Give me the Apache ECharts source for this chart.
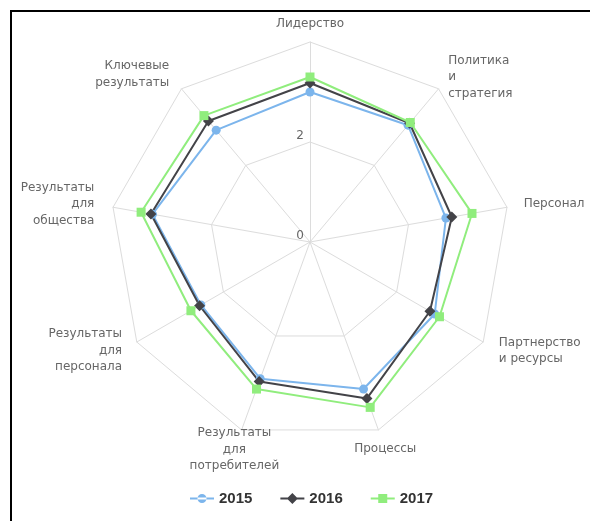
<!DOCTYPE html>
<html>
<head>
<meta charset="utf-8">
<script src="https://cdn.jsdelivr.net/npm/echarts@6/dist/echarts.min.js"></script>
<style>
html,body{margin:0;padding:0;background:#fff;}
#chart{position:absolute;left:0;top:0;width:590px;height:521px;}
#frame{position:absolute;left:10px;top:10px;width:580px;height:511px;border-left:2px solid #000;border-top:2px solid #000;box-sizing:border-box;pointer-events:none;}
</style>
</head>
<body>
<div id="chart"></div>
<div id="frame"></div>
<script>
// Indicators in clockwise order starting from the top
const categories = [
  'Лидерство',
  'Политика\nи\nстратегия',
  'Персонал',
  'Партнерство\nи ресурсы',
  'Процессы',
  'Результаты\nдля\nпотребителей',
  'Результаты\nдля\nперсонала',
  'Результаты\nдля\nобщества',
  'Ключевые\nрезультаты'
];
const seriesNames = ['2015', '2016', '2017'];
const values2015 = [3.0, 3.05, 2.76, 2.88, 3.13, 2.91, 2.52, 3.2, 2.92];
const values2016 = [3.18, 3.1, 2.88, 2.77, 3.33, 2.97, 2.55, 3.23, 3.16];
const values2017 = [3.3, 3.12, 3.29, 2.99, 3.52, 3.13, 2.75, 3.43, 3.3];
const axisMax = 4;
const axisSplits = 2;

const colors = ['#7cb5ec', '#434348', '#90ed7d'];
const symbols = ['circle', 'diamond', 'rect'];
const symbolSizes = [9, 11, 9];
const legendIcons = [
  'path://M0,8h24v2h-24z M12,4.5a4.5,4.5 0 1,0 0.001,0z',
  'path://M0,8h24v2h-24z M12,3.5l5.5,5.5l-5.5,5.5l-5.5,-5.5z',
  'path://M0,8h24v2h-24z M7.5,4.5h9v9h-9z'
];
// distance of each indicator name from the outer ring (same order as categories)
const nameGaps = [10, 15, 17, 18, 20, 21, 17, 19, 19];

// ECharts places radar indicators counter-clockwise; reorder so display is clockwise
const order = [0].concat(categories.map((_, i) => i).slice(1).reverse());
const bottomIdx = [4, 5];
const indicator = order.map(i => {
  const ind = { name: categories[i], max: axisMax, min: 0, nameGap: nameGaps[i] };
  if (i === 0) ind.axisLabel = { show: true };
  if (bottomIdx.indexOf(i) >= 0) ind.nameTextStyle = { align: 'center' };
  return ind;
});
const reorder = arr => order.map(i => arr[i]);
const allValues = [values2015, values2016, values2017];

const chart = echarts.init(document.getElementById('chart'));
chart.setOption({
  backgroundColor: '#fff',
  animation: false,
  color: colors,
  legend: {
    top: 486,
    left: 185,
    itemGap: 28,
    itemWidth: 24,
    itemHeight: 18,
    textStyle: { fontFamily: 'Liberation Sans', fontWeight: 'bold', fontSize: 15, color: '#333' },
    data: seriesNames.map((n, k) => ({ name: n, icon: legendIcons[k] }))
  },
  radar: {
    center: [310, 242],
    radius: 200,
    shape: 'polygon',
    startAngle: 90,
    splitNumber: axisSplits,
    nameGap: 14,
    axisName: { color: '#666', fontFamily: 'DejaVu Sans', fontSize: 12, lineHeight: 16.5 },
    axisLine: { lineStyle: { color: '#dcdcdc', width: 1 } },
    splitLine: { lineStyle: { color: '#dcdcdc', width: 1 } },
    splitArea: { show: false },
    axisTick: { show: false },
    axisLabel: { show: false, showMaxLabel: false, color: '#666', fontFamily: 'DejaVu Sans', fontSize: 12, margin: 6, verticalAlign: 'bottom', lineHeight: 12 },
    indicator: indicator
  },
  series: [{
    type: 'radar',
    data: seriesNames.map((n, k) => ({
      name: n,
      value: reorder(allValues[k]),
      symbol: symbols[k],
      symbolSize: symbolSizes[k],
      lineStyle: { color: colors[k], width: 2 },
      itemStyle: { color: colors[k] }
    }))
  }]
});
</script>
</body>
</html>
